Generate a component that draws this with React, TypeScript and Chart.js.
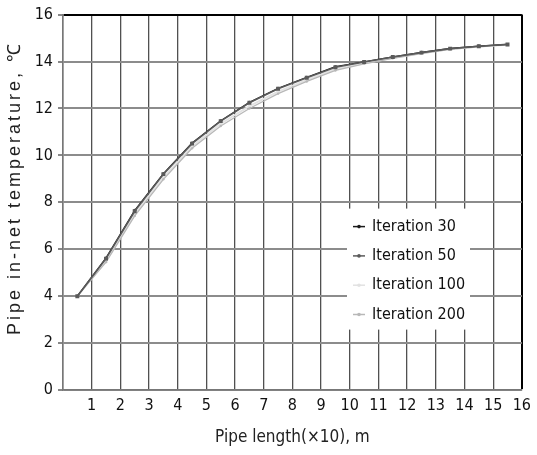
import React, { useEffect, useRef } from "react";
import { Chart, registerables } from "chart.js";

Chart.register(...registerables);

const xValues = [0.5, 1.5, 2.5, 3.5, 4.5, 5.5, 6.5, 7.5, 8.5, 9.5, 10.5, 11.5, 12.5, 13.5, 14.5, 15.5];
const iter30 = [4.0, 5.63, 7.66, 9.22, 10.53, 11.48, 12.26, 12.86, 13.33, 13.78, 13.99, 14.2, 14.39, 14.56, 14.66, 14.73];
const iter50 = [4.0, 5.6, 7.62, 9.2, 10.5, 11.46, 12.24, 12.84, 13.31, 13.76, 13.98, 14.19, 14.38, 14.55, 14.65, 14.73];
const iter100 = [4.0, 5.5, 7.5, 9.05, 10.38, 11.35, 12.1, 12.72, 13.22, 13.68, 13.93, 14.16, 14.36, 14.53, 14.64, 14.72];
const iter200 = [4.0, 5.45, 7.42, 8.98, 10.3, 11.25, 12.0, 12.63, 13.15, 13.62, 13.9, 14.14, 14.34, 14.52, 14.63, 14.72];
const seriesNames = ["Iteration 30", "Iteration 50", "Iteration 100", "Iteration 200"];
const xTitle = "Pipe length(\u00d710), m";
const yTitle = "Pipe in-net temperature, \u2103";

const FONT = "'Liberation Sans Narrow', 'DejaVu Sans Condensed', 'Liberation Sans', Arial, sans-serif";
const WIDE_FONT = "'Liberation Sans', Arial, sans-serif";

const styles = [
  { color: "#1a1a1a", width: 1.2, radius: 1.5, pointStyle: "circle" },
  { color: "#5a5a5a", width: 1.6, radius: 2.8, pointStyle: "rect" },
  { color: "#e2e2e2", width: 2, radius: 1.5, pointStyle: "circle" },
  { color: "#b8b8b8", width: 1.3, radius: 1.2, pointStyle: "circle" },
];
const seriesData = [iter30, iter50, iter100, iter200];
const drawOrder = [1, 0, 3, 2];

const toPts = (ys: number[]) => ys.map((y, i) => ({ x: xValues[i], y }));

const overlayPlugin = {
  id: "overlay",
  afterDatasetsDraw(chart: any) {
    const ctx = chart.ctx as CanvasRenderingContext2D;
    const area = chart.chartArea;
    ctx.save();
    const bx = area.left + 284;
    const by = area.top + 194;
    ctx.fillStyle = "#ffffff";
    ctx.fillRect(bx, by, 123, 121);
    ctx.font = `16px ${FONT}`;
    ctx.textBaseline = "middle";
    ctx.textAlign = "left";
    seriesNames.forEach((name, i) => {
      const y = by + 18 + i * 29.3;
      const st = styles[i];
      ctx.strokeStyle = st.color;
      ctx.lineWidth = 1.5;
      ctx.beginPath();
      ctx.moveTo(bx + 6, y);
      ctx.lineTo(bx + 18, y);
      ctx.stroke();
      ctx.fillStyle = st.color;
      ctx.beginPath();
      ctx.arc(bx + 12, y, 1.8, 0, Math.PI * 2);
      ctx.fill();
      ctx.fillStyle = "#111";
      ctx.fillText(name, bx + 25, y);
    });
    ctx.restore();
  },
  afterDraw(chart: any) {
    const ctx = chart.ctx as CanvasRenderingContext2D;
    const area = chart.chartArea;
    ctx.save();
    ctx.fillStyle = "#222";
    ctx.font = `17px ${FONT}`;
    ctx.textAlign = "center";
    ctx.textBaseline = "middle";
    ctx.fillText(xTitle, (area.left + area.right) / 2, 438);
    ctx.translate(15, 188);
    ctx.rotate(-Math.PI / 2);
    ctx.font = `18px ${WIDE_FONT}`;
    (ctx as any).letterSpacing = "3px";
    ctx.fillText(yTitle, 0, 0);
    ctx.restore();
  },
};

export default function App() {
  const ref = useRef<HTMLCanvasElement | null>(null);
  useEffect(() => {
    if (!ref.current) return;
    const datasets = seriesNames.map((name, i) => {
      const st = styles[i];
      return {
        label: name,
        data: toPts(seriesData[i]),
        borderColor: st.color,
        backgroundColor: st.color,
        borderWidth: st.width,
        pointRadius: st.radius,
        pointStyle: st.pointStyle,
        pointBorderWidth: 0,
        tension: 0,
        order: drawOrder[i],
      };
    });
    const chart = new Chart(ref.current, {
      type: "line",
      data: { datasets },
      plugins: [overlayPlugin],
      options: {
        responsive: false,
        animation: false,
        devicePixelRatio: 1,
        layout: { padding: { top: 13, right: 13, left: 0, bottom: 0 } },
        plugins: { legend: { display: false }, tooltip: { enabled: false }, title: { display: false } },
        scales: {
          x: {
            type: "linear",
            min: 0,
            max: 16,
            afterFit: (s: any) => { s.height = 65; },
            ticks: {
              stepSize: 1,
              autoSkip: false,
              maxRotation: 0,
              padding: 6,
              color: "#111",
              font: { family: FONT, size: 16 },
              callback: (v: any) => (v === 0 ? "" : String(v)),
            },
            grid: {
              drawTicks: false,
              color: (c: any) => (c.tick && c.tick.value === 16 ? "#000" : "#505050"),
              lineWidth: (c: any) => (c.tick && c.tick.value === 16 ? 2 : 1.3),
            },
            border: { color: "#777", width: 1.5 },
          },
          y: {
            min: 0,
            max: 16,
            afterFit: (s: any) => { s.width = 63; },
            ticks: {
              stepSize: 2,
              padding: 5,
              color: "#111",
              font: { family: FONT, size: 16 },
            },
            grid: {
              tickLength: 5,
              tickColor: "#888",
              color: (c: any) => (c.tick && c.tick.value === 16 ? "#000" : "#8c8c8c"),
              lineWidth: 2,
            },
            border: { color: "#777", width: 1.5 },
          },
        },
      } as any,
    });
    return () => chart.destroy();
  }, []);
  return (
    <div style={{ position: "absolute", left: 0, top: 0, width: 537, height: 455, background: "#fff" }}>
      <canvas ref={ref} width={537} height={455} />
    </div>
  );
}
